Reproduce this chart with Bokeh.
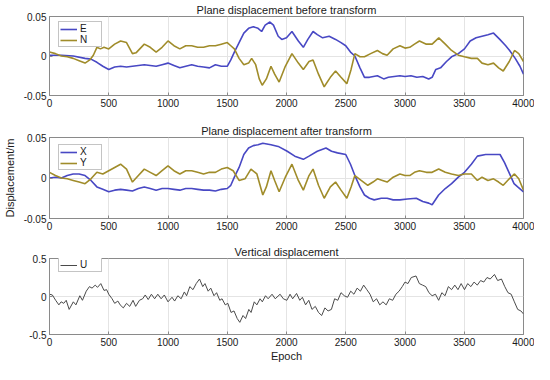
from bokeh.plotting import figure
from bokeh.layouts import column
from bokeh.models import Range1d, FixedTicker, Legend, LegendItem
from bokeh.embed import file_html
from bokeh.resources import INLINE

# ---------------- data ----------------
e_epoch = [0, 100, 200, 300, 350, 400, 450, 500, 550, 600, 650, 700, 750, 800, 850, 900, 950, 1000,
           1050, 1100, 1150, 1200, 1250, 1300, 1350, 1400, 1450, 1500, 1530, 1560, 1600, 1640, 1680,
           1720, 1760, 1790, 1820, 1860, 1890, 1930, 1960, 2000, 2046, 2100, 2142, 2180, 2224, 2260,
           2305, 2360, 2414, 2460, 2500, 2540, 2577, 2620, 2658, 2700, 2767, 2820, 2860, 2957, 3000,
           3050, 3100, 3150, 3200, 3229, 3260, 3300, 3350, 3393, 3450, 3502, 3550, 3600, 3650, 3700,
           3747, 3800, 3850, 3883, 3930, 3970, 4000]
e_val = [0.001, 0.001, 0.0, -0.003, -0.004, -0.008, -0.013, -0.017, -0.014, -0.013, -0.014, -0.013,
         -0.012, -0.011, -0.012, -0.013, -0.011, -0.009, -0.012, -0.015, -0.013, -0.011, -0.013, -0.014,
         -0.015, -0.011, -0.013, -0.013, -0.005, 0.005, 0.017, 0.029, 0.035, 0.037, 0.035, 0.031, 0.039,
         0.043, 0.039, 0.025, 0.021, 0.023, 0.031, 0.019, 0.011, 0.021, 0.031, 0.027, 0.023, 0.025,
         0.021, 0.017, 0.013, 0.005, 0.0, -0.015, -0.027, -0.027, -0.025, -0.029, -0.027, -0.025, -0.026,
         -0.025, -0.027, -0.026, -0.029, -0.027, -0.017, -0.015, -0.007, -0.001, 0.003, 0.009, 0.019,
         0.023, 0.025, 0.027, 0.029, 0.021, 0.013, 0.007, -0.003, -0.013, -0.023]

n_epoch = [0, 50, 100, 150, 200, 250, 300, 340, 370, 400, 430, 460, 500, 550, 600, 650, 700, 730, 800,
           850, 900, 950, 1000, 1050, 1100, 1150, 1200, 1250, 1300, 1350, 1400, 1450, 1500, 1530, 1560,
           1600, 1640, 1680, 1706, 1740, 1770, 1795, 1830, 1869, 1900, 1938, 1990, 2046, 2100, 2142,
           2190, 2224, 2270, 2318, 2370, 2414, 2460, 2509, 2545, 2577, 2620, 2658, 2710, 2767, 2810,
           2849, 2900, 2957, 3000, 3040, 3080, 3122, 3180, 3229, 3285, 3340, 3393, 3450, 3502, 3560,
           3611, 3650, 3700, 3747, 3790, 3829, 3880, 3924, 3960, 4000]
n_val = [0.005, 0.003, 0.0, -0.001, -0.003, -0.006, -0.009, -0.005, 0.001, 0.011, 0.009, 0.011, 0.009,
         0.015, 0.019, 0.017, 0.003, 0.004, 0.015, 0.011, 0.005, 0.011, 0.019, 0.013, 0.009, 0.013, 0.013,
         0.011, 0.011, 0.013, 0.013, 0.015, 0.017, 0.013, 0.009, -0.003, -0.011, -0.009, -0.003, -0.011,
         -0.029, -0.037, -0.029, -0.013, -0.023, -0.033, -0.013, 0.003, -0.009, -0.017, -0.007, -0.005,
         -0.023, -0.039, -0.027, -0.019, -0.027, -0.035, -0.017, 0.003, -0.001, -0.001, 0.003, 0.007,
         0.003, 0.001, 0.009, 0.013, 0.010, 0.011, 0.015, 0.019, 0.015, 0.015, 0.023, 0.015, 0.007, 0.001,
         -0.001, -0.003, -0.003, -0.009, -0.011, -0.009, -0.015, -0.019, -0.007, 0.007, 0.003, -0.007]

x_epoch = [0, 50, 100, 150, 200, 250, 300, 350, 400, 450, 500, 550, 600, 650, 700, 750, 800, 850, 900,
           950, 1000, 1050, 1100, 1150, 1200, 1250, 1300, 1350, 1400, 1450, 1500, 1530, 1560, 1600, 1640,
           1680, 1720, 1760, 1800, 1869, 1930, 2006, 2070, 2142, 2190, 2260, 2333, 2380, 2430, 2500,
           2540, 2577, 2620, 2658, 2700, 2740, 2800, 2849, 2900, 2957, 3020, 3095, 3150, 3200, 3229,
           3284, 3340, 3393, 3450, 3502, 3560, 3611, 3680, 3747, 3802, 3840, 3883, 3920, 3951, 4000]
x_val = [0.0, 0.001, 0.0, 0.003, 0.005, 0.005, 0.003, -0.003, -0.011, -0.014, -0.017, -0.015, -0.014,
         -0.015, -0.016, -0.013, -0.011, -0.013, -0.015, -0.013, -0.013, -0.014, -0.015, -0.013, -0.013,
         -0.014, -0.015, -0.015, -0.016, -0.014, -0.013, -0.009, 0.001, 0.013, 0.029, 0.037, 0.040,
         0.041, 0.043, 0.041, 0.039, 0.033, 0.027, 0.023, 0.027, 0.033, 0.037, 0.033, 0.031, 0.029,
         0.017, 0.003, -0.011, -0.021, -0.025, -0.027, -0.025, -0.025, -0.027, -0.027, -0.026, -0.025,
         -0.029, -0.031, -0.033, -0.021, -0.013, -0.007, 0.001, 0.007, 0.017, 0.027, 0.029, 0.029, 0.029,
         0.019, 0.005, -0.007, -0.011, -0.017]

y_epoch = [0, 50, 100, 150, 200, 250, 300, 350, 400, 450, 500, 550, 600, 650, 700, 750, 800, 850, 900,
           950, 1000, 1050, 1100, 1150, 1200, 1250, 1300, 1350, 1400, 1450, 1500, 1550, 1600, 1650, 1700,
           1750, 1800, 1830, 1869, 1900, 1938, 1990, 2046, 2100, 2142, 2190, 2224, 2270, 2318, 2370,
           2414, 2460, 2509, 2545, 2577, 2630, 2686, 2730, 2767, 2810, 2849, 2900, 2957, 3000, 3040,
           3080, 3122, 3180, 3229, 3284, 3340, 3393, 3450, 3502, 3560, 3611, 3650, 3700, 3747, 3790,
           3829, 3880, 3924, 3960, 4000]
y_val = [0.007, 0.003, 0.0, -0.001, -0.003, -0.005, -0.007, -0.001, 0.007, 0.005, 0.009, 0.013, 0.017,
         0.011, -0.005, 0.003, 0.011, 0.007, 0.003, 0.009, 0.015, 0.009, 0.005, 0.009, 0.009, 0.007, 0.005,
         0.007, 0.007, 0.011, 0.013, 0.009, -0.003, -0.001, 0.011, 0.005, -0.021, -0.011, 0.009, -0.003,
         -0.017, 0.001, 0.017, -0.003, -0.015, 0.003, 0.011, -0.009, -0.025, -0.011, -0.005, -0.015,
         -0.025, -0.011, 0.003, -0.003, -0.009, -0.005, -0.001, -0.003, -0.005, 0.001, 0.005, 0.003,
         0.003, 0.007, 0.009, 0.007, 0.007, 0.011, 0.007, 0.005, 0.003, 0.005, 0.005, -0.003, 0.001,
         -0.003, -0.001, -0.005, -0.009, -0.001, 0.005, -0.001, -0.015]

u_epoch = [0, 24, 52, 79, 98, 120, 141, 166, 201, 223, 256, 278, 310, 337, 359, 386, 405, 433, 460, 482,
           500, 528, 550, 577, 596, 623, 650, 677, 705, 727, 759, 786, 808, 833, 860, 887, 914, 942, 969,
           1000, 1034, 1056, 1083, 1111, 1138, 1157, 1184, 1211, 1238, 1266, 1293, 1312, 1339, 1361,
           1388, 1410, 1437, 1456, 1483, 1505, 1532, 1557, 1584, 1606, 1633, 1655, 1682, 1701, 1728,
           1750, 1777, 1796, 1823, 1845, 1878, 1905, 1946, 1973, 2003, 2030, 2052, 2085, 2112, 2134,
           2161, 2188, 2215, 2243, 2270, 2297, 2324, 2351, 2379, 2406, 2433, 2460, 2488, 2515, 2542,
           2569, 2596, 2624, 2651, 2678, 2705, 2732, 2760, 2787, 2814, 2841, 2868, 2896, 2923, 2950,
           2977, 3000, 3025, 3053, 3093, 3121, 3148, 3175, 3202, 3229, 3257, 3284, 3311, 3338, 3366,
           3393, 3420, 3447, 3474, 3502, 3529, 3556, 3583, 3610, 3638, 3665, 3692, 3719, 3755, 3782,
           3814, 3842, 3869, 3896, 3923, 3951, 3978, 4000]
u_val = [0.03, 0.02, -0.05, -0.11, -0.07, -0.09, -0.05, -0.17, -0.07, -0.11, 0.01, -0.05, 0.07, 0.13,
         0.11, 0.15, 0.12, 0.17, 0.08, 0.09, 0.03, -0.03, -0.09, -0.06, -0.11, -0.15, -0.09, -0.13, -0.05,
         -0.13, -0.05, -0.03, 0.02, -0.04, 0.03, -0.03, 0.03, -0.03, 0.02,
         -0.07, -0.01, -0.06, 0.01, -0.03, 0.06, 0.01, 0.13, 0.09, 0.17, 0.23, 0.13, 0.17, 0.07, 0.11,
         0.01, 0.05, -0.05, -0.03, -0.11, -0.09, -0.21, -0.19, -0.29, -0.34, -0.25, -0.29, -0.17, -0.21,
         -0.07, -0.11, -0.03, -0.07, 0.01, -0.03, 0.03, -0.03, 0.03, -0.03, -0.05, 0.03, -0.03, 0.04,
         -0.05, -0.01, -0.11, -0.05, -0.17, -0.13, -0.21, -0.25, -0.15, -0.19, -0.17, -0.03, -0.05, 0.05,
         0.01, -0.01, 0.07, 0.03, 0.11, 0.07, 0.15, 0.09, 0.03, -0.07, -0.03, -0.11, -0.07, -0.11, -0.03,
         -0.05, 0.03, 0.07, 0.13, 0.19, 0.17, 0.25, 0.27, 0.17, 0.15, 0.13, 0.05, 0.01, 0.03, -0.05, 0.05,
         0.01, 0.13, 0.09, 0.15, 0.09, 0.17, 0.09, 0.17, 0.13, 0.19, 0.15, 0.21, 0.19, 0.25, 0.23, 0.29,
         0.21, 0.23, 0.13, 0.05, 0.03, -0.07, -0.17, -0.19, -0.23]

x_ticks = [0, 500, 1000, 1500, 2000, 2500, 3000, 3500, 4000]
plane_ticks = [-0.05, 0, 0.05]
plane_tick_labels = {-0.05: "-0.05", 0: "0", 0.05: "0.05"}
vert_ticks = [-0.5, 0, 0.5]
vert_tick_labels = {-0.5: "-0.5", 0: "0", 0.5: "0.5"}

titles = ["Plane displacement before transform", "Plane displacement after transform", "Vertical displacement"]
BLUE = "#4848c4"
OLIVE = "#a08c2a"
GRAY = "#4a4a4a"
FONT = "Liberation Sans"
TXT = "#1a1a1a"

W = 534
FRAME_H = 81
LEFT = 46
RIGHT = 11


def make_fig(title, top, bottom, yrange, yticks, ylabels, ylabel):
    p = figure(width=W, height=top + FRAME_H + bottom, output_backend="svg", toolbar_location=None,
               x_range=Range1d(0, 4000), y_range=Range1d(*yrange), title=title)
    p.min_border_left = LEFT
    p.min_border_right = RIGHT
    p.min_border_top = top
    p.min_border_bottom = bottom
    p.title.align = "center"
    p.title.text_font = FONT
    p.title.text_font_size = "11px"
    p.title.text_font_style = "normal"
    p.title.text_color = TXT
    p.title.standoff = 2
    p.title.offset = 0
    p.outline_line_color = "#8a8a8a"
    p.outline_line_width = 1
    p.xaxis.ticker = FixedTicker(ticks=x_ticks)
    p.yaxis.ticker = FixedTicker(ticks=yticks)
    p.yaxis.major_label_overrides = ylabels
    for ax in (p.xaxis[0], p.yaxis[0]):
        ax.axis_line_color = "#8a8a8a"
        ax.major_tick_line_color = "#8a8a8a"
        ax.major_tick_in = 3
        ax.major_tick_out = 0
        ax.minor_tick_line_color = None
        ax.major_label_text_font = FONT
        ax.major_label_text_font_size = "10px"
        ax.major_label_text_color = TXT
        ax.major_label_standoff = 3
    if ylabel:
        p.yaxis.axis_label = ylabel
        p.yaxis.axis_label_text_font = FONT
        p.yaxis.axis_label_text_font_size = "11px"
        p.yaxis.axis_label_text_font_style = "normal"
        p.yaxis.axis_label_text_color = TXT
        p.yaxis.axis_label_standoff = 5
    p.xgrid.ticker = FixedTicker(ticks=x_ticks)
    p.ygrid.ticker = FixedTicker(ticks=yticks)
    p.xgrid.grid_line_color = "#e4e4e4"
    p.ygrid.grid_line_color = "#e4e4e4"
    return p


def add_legend(p, items):
    n = len(items)
    h = n * 14 + 4
    leg = Legend(items=items, location=(9, FRAME_H - 1 - h), orientation="vertical")
    leg.label_text_font = FONT
    leg.label_text_font_size = "10px"
    leg.label_text_color = TXT
    leg.glyph_width = 17
    leg.glyph_height = 10
    leg.label_height = 10
    leg.label_standoff = 3
    leg.padding = 1
    leg.spacing = 0
    leg.margin = 0
    leg.border_line_color = "#8a8a8a"
    leg.background_fill_alpha = 1.0
    p.add_layout(leg)


# Panel 1
p1 = make_fig(titles[0], 14, 21, (-0.05, 0.05), plane_ticks, plane_tick_labels, None)
r_e = p1.line(e_epoch, e_val, line_color=BLUE, line_width=1.6)
r_n = p1.line(n_epoch, n_val, line_color=OLIVE, line_width=1.6)
add_legend(p1, [LegendItem(label="E", renderers=[r_e]), LegendItem(label="N", renderers=[r_n])])

# Panel 2
p2 = make_fig(titles[1], 21, 20, (-0.05, 0.05), plane_ticks, plane_tick_labels, "Displacement/m")
r_x = p2.line(x_epoch, x_val, line_color=BLUE, line_width=1.6)
r_y = p2.line(y_epoch, y_val, line_color=OLIVE, line_width=1.6)
add_legend(p2, [LegendItem(label="X", renderers=[r_x]), LegendItem(label="Y", renderers=[r_y])])

# Panel 3
p3 = make_fig(titles[2], 20, 25, (-0.5, 0.5), vert_ticks, vert_tick_labels, None)
r_u = p3.line(u_epoch, u_val, line_color=GRAY, line_width=1.0)
add_legend(p3, [LegendItem(label="U", renderers=[r_u])])
p3.xaxis.axis_label = "Epoch"
p3.xaxis.axis_label_text_font = FONT
p3.xaxis.axis_label_text_font_size = "11px"
p3.xaxis.axis_label_text_font_style = "normal"
p3.xaxis.axis_label_text_color = TXT
p3.xaxis.axis_label_standoff = 1

layout = column(p1, p2, p3, spacing=0)
open("out.html", "w").write(file_html(layout, INLINE))
